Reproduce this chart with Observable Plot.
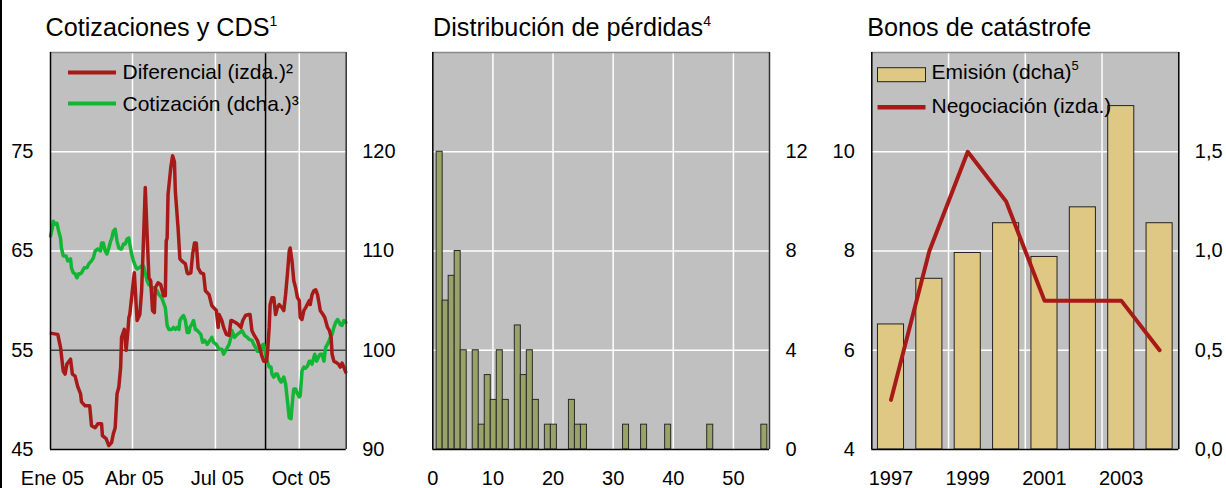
<!DOCTYPE html>
<html>
<head>
<meta charset="utf-8">
<script src="https://cdn.jsdelivr.net/npm/d3@7"></script>
<script src="https://cdn.jsdelivr.net/npm/@observablehq/plot@0.6"></script>
<style>
  html, body { margin: 0; padding: 0; background: #ffffff; }
  #root { position: relative; width: 1226px; height: 488px; overflow: hidden; font-family: "Liberation Sans", Arial, sans-serif; }
  .panel { position: absolute; top: 0; }
  #overlay { position: absolute; left: 0; top: 0; pointer-events: none; }
</style>
</head>
<body>
<div id="root"></div>
<script>
// ---------- Panel 1: Cotizaciones y CDS (2005, day offsets from 1 Jan) ----------
const spreadDays = [1,8,11,14,16,18,22,24,27,30,33,34,38,43,45,49,52,56,57,61,64,67,69,71,73,75,77,78,81,83,85,86,87,89,91,92,95,98,100,102,104,106,108,110,112,114,115,118,121,124,126,127,128,129,132,134,136,137,140,142,144,148,150,151,154,156,158,160,162,165,168,170,174,177,179,182,184,185,188,190,193,196,198,199,203,206,209,211,214,217,219,221,223,227,230,232,234,237,238,240,241,243,245,247,249,251,254,256,258,260,262,263,265,267,269,271,273,274,276,278,280,284,285,287,289,291,293,295,296,299,301,304,306,308,309,311,313,316,318,320,322,324];
const spreadVals = [56.7,56.6,55.3,52.9,52.6,53.6,54.1,52.6,52.4,51.3,50.6,49.8,49.4,49.4,47.4,47.2,47.6,47.6,46.4,46.1,45.4,45.7,46.6,47.2,50.6,51.3,53.3,56.3,57.1,55.0,57.0,58.3,58.6,60.3,62.0,62.8,58.0,58.6,61.0,66.0,71.4,66.7,62.3,62.0,59.0,58.8,61.3,61.8,61.6,60.5,60.5,66.0,66.3,70.7,73.4,74.6,74.0,71.0,67.3,64.2,64.0,63.7,62.8,62.7,62.8,64.7,65.8,65.8,63.3,62.8,62.7,61.0,60.6,59.5,59.3,59.0,57.3,58.6,58.0,57.3,56.6,56.5,58.0,58.0,57.8,57.6,57.3,58.0,58.5,58.6,58.6,57.0,56.6,56.0,55.1,54.4,53.9,53.9,54.6,57.3,59.6,60.3,60.3,58.6,59.3,59.6,59.3,59.0,60.6,62.7,65.0,65.3,64.0,62.0,61.3,60.3,60.0,58.3,58.1,59.0,59.3,60.0,59.6,60.6,61.0,61.1,60.6,59.6,59.0,58.6,58.3,57.3,57.0,56.3,54.6,53.9,53.8,53.6,53.3,53.7,53.3,52.8];

const priceDays = [0,2,3,5,7,9,11,12,14,17,19,22,23,25,27,29,31,33,34,37,40,42,45,47,49,52,55,56,58,60,62,64,66,67,69,71,73,75,77,78,80,82,84,86,87,89,91,94,95,97,100,102,104,106,108,109,111,114,117,119,122,124,126,128,130,133,135,137,139,141,142,144,146,148,150,152,153,155,157,159,161,165,167,169,172,175,177,179,182,185,188,190,193,196,198,199,202,205,208,210,213,216,218,221,223,225,227,229,231,232,234,236,238,240,242,243,245,247,249,251,253,254,256,258,260,262,264,265,266,267,269,271,273,274,275,276,278,280,282,284,285,287,289,290,292,294,296,298,300,302,304,306,307,309,311,313,315,317,318,320,322,324];
const priceVals = [111.5,112.3,113.0,112.7,112.8,112.0,111.3,110.3,109.5,109.5,109.0,109.2,108.3,107.8,107.7,107.3,107.7,107.7,107.8,108.3,108.3,108.7,109.0,109.3,110.0,110.2,110.0,110.8,110.8,110.0,109.7,110.3,111.0,111.2,112.0,112.2,111.0,110.3,110.2,110.2,110.7,110.7,111.2,111.3,110.7,109.7,109.0,108.3,108.2,108.3,108.5,108.5,107.8,107.0,106.6,106.6,106.3,106.3,106.0,105.6,105.3,104.8,104.3,102.5,102.1,102.1,102.3,102.1,102.3,102.1,103.0,103.3,103.5,103.0,101.8,101.8,102.3,102.6,103.0,102.1,102.0,101.6,100.8,101.0,100.6,101.0,101.3,100.8,100.6,100.1,100.1,99.6,100.1,100.6,101.3,102.0,101.3,101.6,101.8,102.0,101.5,101.3,101.1,101.0,100.6,100.3,99.9,99.9,100.1,100.5,100.6,99.6,98.8,98.3,98.3,97.6,97.3,97.6,97.6,97.1,96.8,96.9,97.3,96.6,94.9,93.2,93.1,94.3,95.3,96.1,96.1,95.6,95.3,95.4,96.6,97.9,98.3,98.2,98.4,98.9,98.9,98.6,99.3,99.6,98.9,99.3,99.6,99.6,98.9,100.3,100.6,101.0,101.3,101.6,102.3,102.8,103.1,102.8,102.6,102.5,103.0,102.8];

const monthTickDays = [0, 90, 181, 273];
const monthTickLabels = ["Ene 05", "Abr 05", "Jul 05", "Oct 05"];
const eventDay = 236;            // vertical marker (late August 2005)
const endDay = 324.5;
const spreadTicks = [45, 55, 65, 75];
const spreadGrid = [65, 75];
const spreadRef = 55;

// ---------- Panel 2: Distribución de pérdidas ----------
const lossBins = [1,2,3,4,5,7,8,9,10,11,12,14,15,16,17,19,20,23,24,25,32,35,39,46,55];
const lossCounts = [12,6,7,8,4,4,1,3,2,4,2,5,3,4,2,1,1,2,1,1,1,1,1,1,1];
const lossXTicks = [0,10,20,30,40,50];
const lossYTicks = [0,4,8,12];

// ---------- Panel 3: Bonos de catástrofe ----------
const years = [1997,1998,1999,2000,2001,2002,2003,2004];
const issuance = [0.63,0.86,0.99,1.14,0.97,1.22,1.73,1.14];   // dcha
const trading = [5,8,10,9,7,7,7,6];                            // izda
const yearTicks = [1997,1999,2001,2003];
const catLeftTicks = [4,6,8,10];

// ---------- colours ----------
const BG = "#c0c0c0", RED = "#a81a17", GREEN = "#13b534", OLIVE = "#98a269", TAN = "#dfc883";
const FONT = "'Liberation Sans', Arial, sans-serif";

const root = document.getElementById("root");
function place(svg, left) {
  svg.classList.add("panel");
  svg.style.left = left + "px";
  root.appendChild(svg);
}
const baseStyle = {fontFamily: FONT, fontSize: "20px", background: "transparent", overflow: "visible", color: "#000"};
const XPAD = 21;

// Panel 1
const t0 = new Date(Date.UTC(2005, 0, 1));
const dayDate = d => new Date(t0.getTime() + d * 864e5);
const spread = spreadDays.map((d, i) => ({date: dayDate(d), v: spreadVals[i]}));
const price = priceDays.map((d, i) => ({date: dayDate(d), v: priceVals[i] - 45}));
const monthTicks = monthTickDays.map(dayDate);
const p1 = Plot.plot({
  width: 400, height: 488,
  marginLeft: 50, marginRight: 54.3, marginTop: 52, marginBottom: 39,
  style: baseStyle,
  x: {type: "utc", domain: [t0, dayDate(endDay)]},
  y: {domain: [45, 85]},
  marks: [
    Plot.frame({fill: BG, stroke: null}),
    Plot.ruleX(monthTicks.slice(1), {stroke: "#fff", strokeWidth: 1.5}),
    Plot.ruleY(spreadGrid, {stroke: "#fff", strokeWidth: 1.5}),
    Plot.ruleY([spreadRef], {stroke: "#404040", strokeWidth: 1.5}),
    Plot.ruleX([dayDate(eventDay)], {stroke: "#000", strokeWidth: 1.5}),
    Plot.line(price, {x: "date", y: "v", stroke: GREEN, strokeWidth: 3.5}),
    Plot.line(spread, {x: "date", y: "v", stroke: RED, strokeWidth: 3.5}),
    Plot.ruleY([85], {stroke: "#8a8a8a", strokeWidth: 1.5}),
    Plot.ruleX([t0], {stroke: "#000", strokeWidth: 1.5}),
    Plot.ruleX([dayDate(endDay)], {stroke: "#333", strokeWidth: 1.5}),
    Plot.ruleY([45], {stroke: "#000", strokeWidth: 1.5}),
    Plot.axisY(spreadTicks, {anchor: "left", tickSize: 0, tickPadding: 17, fontSize: 20, label: null, tickFormat: d => String(d)}),
    Plot.axisY(spreadTicks, {anchor: "right", tickSize: 0, tickPadding: 16, fontSize: 20, label: null, tickFormat: d => String(d + 45)}),
    Plot.axisX(monthTicks, {anchor: "bottom", tickSize: 0, tickPadding: XPAD, fontSize: 20, label: null, dx: 2, tickFormat: (d, i) => monthTickLabels[i]})
  ]
});
place(p1, 0);

// Panel 2
const losses = lossBins.map((b, i) => ({b, n: lossCounts[i]}));
const p2 = Plot.plot({
  width: 426, height: 488,
  marginLeft: 32.3, marginRight: 57, marginTop: 52, marginBottom: 39,
  style: baseStyle,
  x: {domain: [0, 56]},
  y: {domain: [0, 16]},
  marks: [
    Plot.frame({fill: BG, stroke: null}),
    Plot.ruleX(lossXTicks.slice(1), {stroke: "#fff", strokeWidth: 1.5}),
    Plot.ruleY(lossYTicks.slice(1), {stroke: "#fff", strokeWidth: 1.5}),
    Plot.rectY(losses, {x1: d => d.b - 0.36, x2: d => d.b + 0.64, y1: 0, y2: "n", fill: OLIVE, stroke: "#2a2a2a", strokeWidth: 1}),
    Plot.ruleY([16], {stroke: "#8a8a8a", strokeWidth: 1.5}),
    Plot.ruleX([0], {stroke: "#000", strokeWidth: 1.5}),
    Plot.ruleX([56], {stroke: "#333", strokeWidth: 1.5}),
    Plot.ruleY([0], {stroke: "#000", strokeWidth: 1.5}),
    Plot.axisY(lossYTicks, {anchor: "right", tickSize: 0, tickPadding: 16, fontSize: 20, label: null, tickFormat: d => String(d)}),
    Plot.axisX(lossXTicks, {anchor: "bottom", tickSize: 0, tickPadding: XPAD, fontSize: 20, label: null, tickFormat: d => String(d)})
  ]
});
place(p2, 400);

// Panel 3
const cat = years.map((y, i) => ({y, e: 4 + issuance[i] * 4, t: trading[i]}));
const p3 = Plot.plot({
  width: 400, height: 488,
  marginLeft: 45.3, marginRight: 47.7, marginTop: 52, marginBottom: 39,
  style: baseStyle,
  x: {domain: [1996.5, 2004.5]},
  y: {domain: [4, 12]},
  marks: [
    Plot.frame({fill: BG, stroke: null}),
    Plot.ruleX([1998.5, 2000.5, 2002.5], {stroke: "#fff", strokeWidth: 1.5}),
    Plot.ruleY(catLeftTicks.slice(1), {stroke: "#fff", strokeWidth: 1.5}),
    Plot.rectY(cat, {x1: d => d.y - 0.34, x2: d => d.y + 0.34, y1: 4, y2: "e", fill: TAN, stroke: "#222", strokeWidth: 1}),
    Plot.line(cat, {x: "y", y: "t", stroke: RED, strokeWidth: 4}),
    Plot.ruleY([12], {stroke: "#8a8a8a", strokeWidth: 1.5}),
    Plot.ruleX([1996.5], {stroke: "#000", strokeWidth: 1.5}),
    Plot.ruleX([2004.5], {stroke: "#000", strokeWidth: 1.5}),
    Plot.ruleY([4], {stroke: "#000", strokeWidth: 1.5}),
    Plot.axisY(catLeftTicks, {anchor: "left", tickSize: 0, tickPadding: 17, fontSize: 20, label: null, tickFormat: d => String(d)}),
    Plot.axisY(catLeftTicks, {anchor: "right", tickSize: 0, tickPadding: 16, fontSize: 20, label: null, tickFormat: d => ((d - 4) / 4).toFixed(1).replace(".", ",")}),
    Plot.axisX(yearTicks, {anchor: "bottom", tickSize: 0, tickPadding: XPAD, fontSize: 20, label: null, tickFormat: d => String(d)})
  ]
});
place(p3, 826);

// ---------- titles & legends overlay ----------
const ov = d3.select(root).append("svg").attr("id", "overlay")
  .attr("width", 1226).attr("height", 488)
  .style("font-family", FONT);
ov.append("rect").attr("x", 0).attr("y", 0).attr("width", 2).attr("height", 488).attr("fill", "#000");

function title(x, text, sup) {
  const t = ov.append("text").attr("x", x).attr("y", 36).attr("font-size", 25.2).attr("fill", "#000").text(text);
  if (sup) t.append("tspan").attr("font-size", 14).attr("dy", -10).text(sup);
}
title(45.5, "Cotizaciones y CDS", "1");
title(433, "Distribución de pérdidas", "4");
title(867.3, "Bonos de catástrofe", null);

function legLine(x1, x2, y, color, w) {
  ov.append("line").attr("x1", x1).attr("x2", x2).attr("y1", y).attr("y2", y).attr("stroke", color).attr("stroke-width", w);
}
function legText(x, y, text, sup) {
  const t = ov.append("text").attr("x", x).attr("y", y).attr("font-size", 21).attr("fill", "#000").text(text);
  if (sup) t.append("tspan").attr("font-size", 13).attr("dy", -9).text(sup);
}
legLine(68, 116, 72.5, RED, 4);
legText(122.5, 79, "Diferencial (izda.)²");
legLine(68, 116, 103.5, GREEN, 4);
legText(122.5, 110.5, "Cotización (dcha.)³");

ov.append("rect").attr("x", 877.5).attr("y", 67.7).attr("width", 48).attr("height", 14).attr("fill", TAN).attr("stroke", "#222").attr("stroke-width", 1);
legText(931.5, 79, "Emisión (dcha)", "5");
legLine(877.5, 925.5, 107.3, RED, 4.5);
legText(931.5, 112.7, "Negociación (izda.)");
</script>
</body>
</html>
